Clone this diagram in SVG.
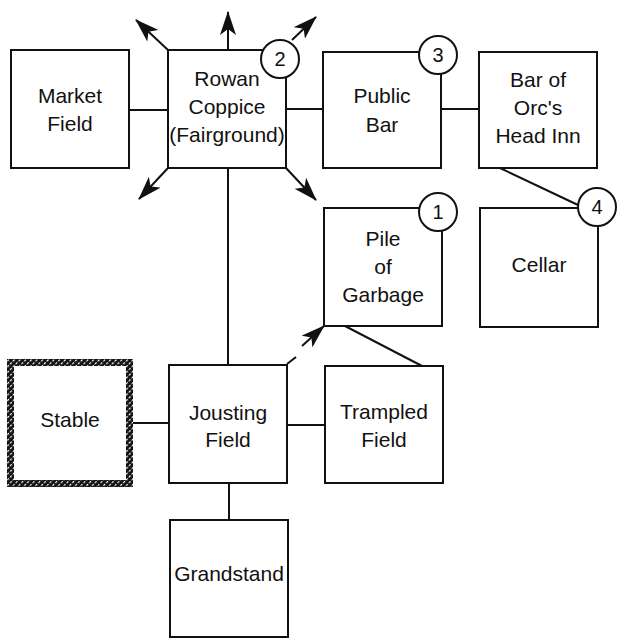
<svg xmlns="http://www.w3.org/2000/svg" width="621" height="640" viewBox="0 0 621 640">
<defs>
<style>
.box{fill:#fff;stroke:#111;stroke-width:2}
.ln{fill:none;stroke:#111;stroke-width:2}
.t{font-family:"Liberation Sans",Arial,sans-serif;font-size:21px;fill:#111;text-anchor:middle}
.c{fill:#fff;stroke:#111;stroke-width:2}
.n{font-family:"Liberation Sans",Arial,sans-serif;font-size:20px;fill:#111;text-anchor:middle}
</style>
<marker id="ah" viewBox="0 0 24 16" refX="23" refY="8" markerWidth="24" markerHeight="16" markerUnits="userSpaceOnUse" orient="auto">
<path d="M0,0 L24,8 L0,16 L6,8 Z" fill="#111"/>
</marker>
<pattern id="hatch" width="4" height="4" patternUnits="userSpaceOnUse" patternTransform="rotate(45)">
<rect width="4" height="4" fill="#111"/>
<rect width="1.2" height="2.4" fill="#fff"/>
</pattern>
</defs>
<rect width="621" height="640" fill="#fff"/>
<g id="connectors">
<line class="ln" x1="129" y1="110" x2="168" y2="110"/>
<line class="ln" x1="286" y1="109" x2="323" y2="109"/>
<line class="ln" x1="441" y1="109" x2="479" y2="109"/>
<line class="ln" x1="500" y1="168" x2="578" y2="205"/>
<line class="ln" x1="228" y1="168" x2="228" y2="365"/>
<line class="ln" x1="133" y1="423" x2="169" y2="423"/>
<line class="ln" x1="287" y1="425" x2="325" y2="425"/>
<line class="ln" x1="229" y1="483" x2="229" y2="520"/>
<line class="ln" x1="345" y1="326" x2="422" y2="366"/>
<line class="ln" x1="168" y1="50" x2="136" y2="20" marker-end="url(#ah)"/>
<line class="ln" x1="228" y1="50" x2="228" y2="12" marker-end="url(#ah)"/>
<line class="ln" x1="292" y1="40" x2="316" y2="17" marker-end="url(#ah)"/>
<line class="ln" x1="168" y1="168" x2="139" y2="199" marker-end="url(#ah)"/>
<line class="ln" x1="286" y1="168" x2="316" y2="200" marker-end="url(#ah)"/>
<line class="ln" x1="287" y1="364" x2="296" y2="357"/>
<line class="ln" x1="302" y1="346" x2="324" y2="326" marker-end="url(#ah)"/>
</g>
<g id="market-field">
<rect class="box" x="11" y="50" width="118" height="118"/>
<text class="t" x="70" y="103">Market</text>
<text class="t" x="70" y="131">Field</text>
</g>
<g id="rowan-coppice">
<rect class="box" x="168" y="50" width="118" height="118"/>
<text class="t" x="227" y="86">Rowan</text>
<text class="t" x="227" y="114">Coppice</text>
<text class="t" x="227" y="142">(Fairground)</text>
<circle class="c" cx="280" cy="59" r="19"/>
<text class="n" x="280" y="66">2</text>
</g>
<g id="public-bar">
<rect class="box" x="323" y="52" width="118" height="116"/>
<text class="t" x="382" y="103">Public</text>
<text class="t" x="382" y="132">Bar</text>
<circle class="c" cx="438" cy="55" r="19"/>
<text class="n" x="438" y="62">3</text>
</g>
<g id="bar-of-orcs-head-inn">
<rect class="box" x="479" y="52" width="118" height="116"/>
<text class="t" x="538" y="87">Bar of</text>
<text class="t" x="538" y="115">Orc's</text>
<text class="t" x="538" y="143">Head Inn</text>
</g>
<g id="cellar">
<rect class="box" x="480" y="208" width="118" height="119"/>
<text class="t" x="539" y="272">Cellar</text>
<circle class="c" cx="597" cy="207" r="19"/>
<text class="n" x="597" y="214">4</text>
</g>
<g id="pile-of-garbage">
<rect class="box" x="324" y="208" width="118" height="118"/>
<text class="t" x="383" y="246">Pile</text>
<text class="t" x="383" y="274">of</text>
<text class="t" x="383" y="302">Garbage</text>
<circle class="c" cx="438" cy="212" r="19"/>
<text class="n" x="438" y="219">1</text>
</g>
<g id="stable">
<path d="M7,359 H133 V487 H7 Z M14,366 V480 H126 V366 Z" fill="url(#hatch)" fill-rule="evenodd"/>
<text class="t" x="70" y="427">Stable</text>
</g>
<g id="jousting-field">
<rect class="box" x="169" y="365" width="118" height="118"/>
<text class="t" x="228" y="420">Jousting</text>
<text class="t" x="228" y="447">Field</text>
</g>
<g id="trampled-field">
<rect class="box" x="325" y="366" width="118" height="117"/>
<text class="t" x="384" y="419">Trampled</text>
<text class="t" x="384" y="447">Field</text>
</g>
<g id="grandstand">
<rect class="box" x="170" y="520" width="118" height="117"/>
<text class="t" x="229" y="581">Grandstand</text>
</g>
</svg>
